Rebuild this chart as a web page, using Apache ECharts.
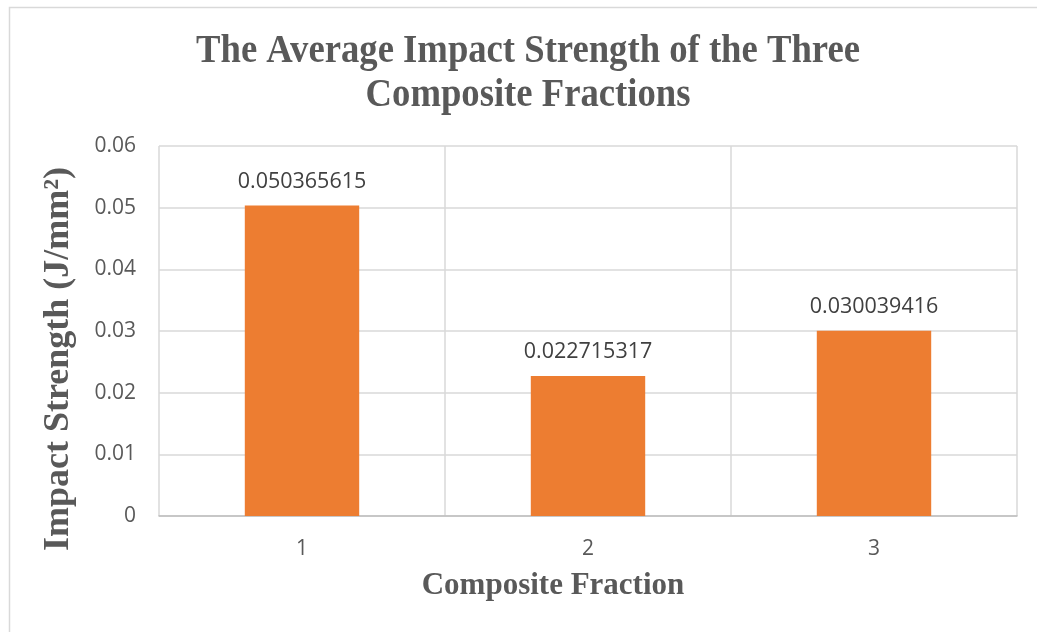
<!DOCTYPE html>
<html>
<head>
<meta charset="utf-8">
<script src="https://cdn.jsdelivr.net/npm/echarts@6/dist/echarts.min.js"></script>
<style>html,body{margin:0;padding:0;background:#fff}#c{width:1037px;height:632px}</style>
</head>
<body>
<div id="c"></div>
<script>
const categories = ['1', '2', '3'];
const impactStrength = [0.050365615, 0.022715317, 0.030039416];
const yTicks = { min: 0, max: 0.06, interval: 0.01 };
const titleText = 'The Average Impact Strength of the Three\nComposite Fractions';
const xName = 'Composite Fraction';
const yName = 'Impact Strength (J/mm\u00B2)';

const chart = echarts.init(document.getElementById('c'));
const serif = '"Liberation Serif", "Times New Roman", serif';
chart.setOption({
  animation: false,
  backgroundColor: '#fff',
  grid: { left: 159, top: 146, right: 20, bottom: 116, containLabel: false },
  xAxis: {
    type: 'category',
    data: categories,
    axisLine: { show: true, lineStyle: { color: '#bfbfbf', width: 1.5 } },
    axisTick: { show: false },
    splitLine: { show: true, lineStyle: { color: '#d9d9d9', width: 1.5 } },
    axisLabel: { color: '#595959', fontFamily: '"Open Sans"', fontSize: 21, margin: 23 }
  },
  yAxis: {
    type: 'value',
    min: yTicks.min, max: yTicks.max, interval: yTicks.interval,
    axisLine: { show: false },
    axisTick: { show: false },
    splitLine: { show: true, lineStyle: { color: '#d9d9d9', width: 1.5 } },
    axisLabel: {
      color: '#595959', fontFamily: '"Open Sans"', fontSize: 21, margin: 23,
      formatter: v => String(+v.toFixed(2))
    }
  },
  series: [{
    type: 'bar',
    data: impactStrength,
    barWidth: '40%',
    itemStyle: { color: '#ED7D31' },
    label: {
      show: true, position: 'top', distance: 13,
      color: '#404040', fontFamily: '"Open Sans"', fontSize: 21.5,
      formatter: p => String(p.value)
    }
  }],
  graphic: [
    { type: 'rect', silent: true, shape: { x: 9.5, y: 7.5, width: 1040, height: 640 },
      style: { fill: 'none', stroke: '#d9d9d9', lineWidth: 1.5 } },
    { type: 'text', x: 528, y: 74, scaleX: 0.94, style: {
      text: titleText, align: 'center', verticalAlign: 'middle',
      font: 'bold 39px ' + serif, lineHeight: 43.5, fill: '#595959' } },
    { type: 'text', x: 553, y: 586, style: {
      text: xName, align: 'center', verticalAlign: 'middle',
      font: 'bold 31px ' + serif, fill: '#595959' } },
    { type: 'text', x: 59, y: 359, rotation: Math.PI / 2, style: {
      text: yName, align: 'center', verticalAlign: 'middle',
      font: 'bold 36px ' + serif, fill: '#595959' } }
  ]
});
</script>
</body>
</html>
